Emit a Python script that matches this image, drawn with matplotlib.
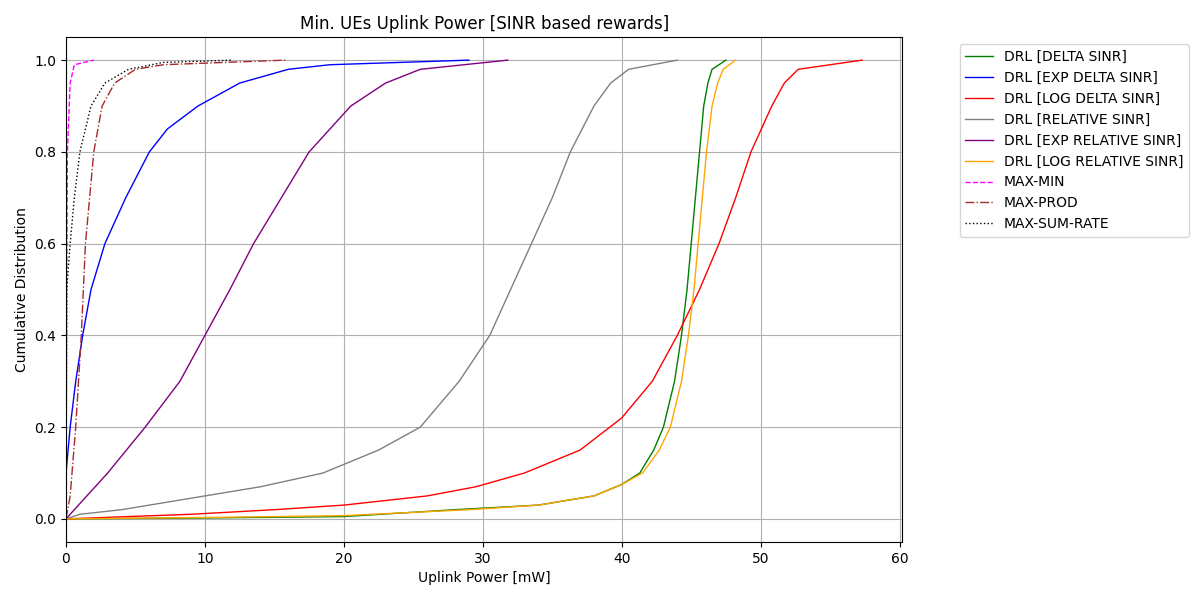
import numpy as np
import matplotlib
matplotlib.use('Agg')
import matplotlib.pyplot as plt

# CDF curves: (uplink power mW, cumulative probability)
delta_x = [0, 10, 20, 28, 34, 38, 40, 41.3, 42.3, 43, 43.8, 44.3, 44.7, 45, 45.3, 45.6, 45.9, 46.2, 46.5, 47.5]
delta_y = [0, 0.002, 0.005, 0.02, 0.03, 0.05, 0.075, 0.1, 0.15, 0.2, 0.3, 0.4, 0.5, 0.6, 0.7, 0.8, 0.9, 0.95, 0.98, 1.0]

exp_delta_x = [0, 0.3, 0.7, 1.2, 1.8, 2.8, 4.3, 6, 7.3, 9.5, 12.5, 16, 19, 29]
exp_delta_y = [0.1, 0.2, 0.3, 0.4, 0.5, 0.6, 0.7, 0.8, 0.85, 0.9, 0.95, 0.98, 0.99, 1.0]

log_delta_x = [0, 9, 15, 20, 26, 29.5, 33, 37, 40, 42.2, 44, 45.6, 47, 48.2, 49.3, 50.8, 51.7, 52.7, 57.3]
log_delta_y = [0, 0.01, 0.02, 0.03, 0.05, 0.07, 0.1, 0.15, 0.22, 0.3, 0.4, 0.5, 0.6, 0.7, 0.8, 0.9, 0.95, 0.98, 1.0]

rel_x = [0, 1, 4, 6, 10, 14, 18.5, 22.5, 25.5, 28.3, 30.5, 32, 33.5, 35, 36.3, 38, 39.2, 40.5, 44]
rel_y = [0, 0.01, 0.02, 0.03, 0.05, 0.07, 0.1, 0.15, 0.2, 0.3, 0.4, 0.5, 0.6, 0.7, 0.8, 0.9, 0.95, 0.98, 1.0]

exp_rel_x = [0, 1.5, 3, 5.7, 8.2, 10, 11.8, 13.5, 15.5, 17.5, 20.5, 23, 25.5, 31.8]
exp_rel_y = [0, 0.05, 0.1, 0.2, 0.3, 0.4, 0.5, 0.6, 0.7, 0.8, 0.9, 0.95, 0.98, 1.0]

log_rel_x = [0, 10, 20, 29, 34, 38, 40, 41.5, 42.7, 43.5, 44.3, 44.8, 45.2, 45.5, 45.8, 46.1, 46.5, 46.9, 47.3, 48.2]
log_rel_y = [0, 0.003, 0.007, 0.02, 0.03, 0.05, 0.075, 0.1, 0.15, 0.2, 0.3, 0.4, 0.5, 0.6, 0.7, 0.8, 0.9, 0.95, 0.98, 1.0]

maxmin_x = [0, 0.05, 0.1, 0.3, 0.6, 2]
maxmin_y = [0, 0.5, 0.8, 0.95, 0.99, 1.0]

maxprod_x = [0, 0.3, 0.7, 1.1, 1.4, 2, 2.6, 3.5, 5, 7, 15.8]
maxprod_y = [0, 0.05, 0.2, 0.4, 0.6, 0.8, 0.9, 0.95, 0.98, 0.99, 1.0]

maxsum_x = [0, 0.05, 0.3, 0.6, 1, 1.8, 2.8, 4.5, 7, 12]
maxsum_y = [0, 0.5, 0.6, 0.7, 0.8, 0.9, 0.95, 0.98, 0.995, 1.0]

fig = plt.figure(figsize=(12, 6), dpi=100)
ax = fig.add_axes([0.055, 0.097, 0.697, 0.841])
ax.plot(delta_x, delta_y, color='green', lw=1, label='DRL [DELTA SINR]')
ax.plot(exp_delta_x, exp_delta_y, color='blue', lw=1, label='DRL [EXP DELTA SINR]')
ax.plot(log_delta_x, log_delta_y, color='red', lw=1, label='DRL [LOG DELTA SINR]')
ax.plot(rel_x, rel_y, color='gray', lw=1, label='DRL [RELATIVE SINR]')
ax.plot(exp_rel_x, exp_rel_y, color='purple', lw=1, label='DRL [EXP RELATIVE SINR]')
ax.plot(log_rel_x, log_rel_y, color='orange', lw=1, label='DRL [LOG RELATIVE SINR]')
ax.plot(maxmin_x, maxmin_y, color='magenta', ls='--', lw=1, label='MAX-MIN')
ax.plot(maxprod_x, maxprod_y, color='brown', ls='-.', lw=1, label='MAX-PROD')
ax.plot(maxsum_x, maxsum_y, color='black', ls=':', lw=1, label='MAX-SUM-RATE')

ax.set_xlim(0, 60.2)
ax.set_ylim(-0.05, 1.05)
ax.grid(True)
ax.set_xlabel('Uplink Power [mW]')
ax.set_ylabel('Cumulative Distribution')
ax.set_title('Min. UEs Uplink Power [SINR based rewards]')
ax.legend(loc='upper left', bbox_to_anchor=(1.06, 1.0))
fig.savefig('out.png')
